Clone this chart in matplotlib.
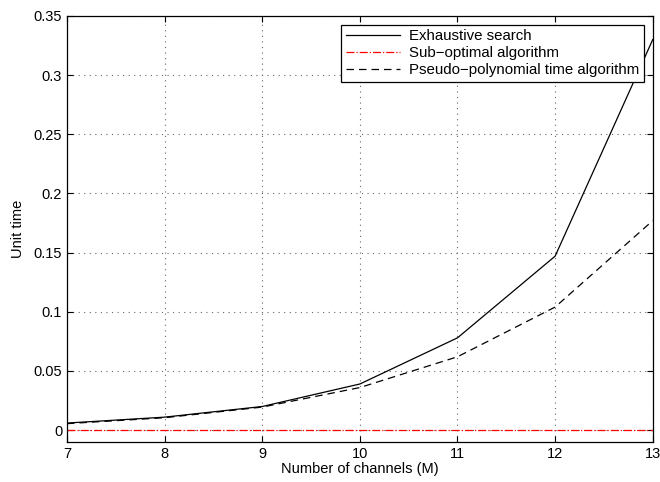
import matplotlib
matplotlib.use("Agg")
import matplotlib.pyplot as plt

plt.rcParams['font.family'] = ['Liberation Sans', 'DejaVu Sans']

# données
canaux = [7, 8, 9, 10, 11, 12, 13]
t_exhaustif = [0.006, 0.011, 0.020, 0.039, 0.078, 0.147, 0.330]
t_sous_opt = [0.0003, 0.0003, 0.0003, 0.0003, 0.0003, 0.0003, 0.0003]
t_pseudo = [0.0055, 0.0105, 0.0195, 0.036, 0.062, 0.104, 0.177]
yticks = [0, 0.05, 0.1, 0.15, 0.2, 0.25, 0.3, 0.35]
ytick_labels = ['0', '0.05', '0.1', '0.15', '0.2', '0.25', '0.3', '0.35']

fig = plt.figure(figsize=(6.6, 4.82), dpi=100)
ax = fig.add_axes([0.1015, 0.083, 0.8875, 0.884])

ax.plot(canaux, t_exhaustif, 'k-', lw=0.9, label="Exhaustive search")
ax.plot(canaux, t_sous_opt, 'r-.', lw=0.9, label="Sub\u2212optimal algorithm")
ax.plot(canaux, t_pseudo, 'k--', lw=0.9, dashes=(6, 4), label="Pseudo\u2212polynomial time algorithm")

ax.set_xlim(7, 13)
ax.set_ylim(-0.01, 0.35)
ax.set_yticks(yticks)
ax.set_yticklabels(ytick_labels)
ax.grid(True, linestyle=(0, (1, 4)), color='#666666', lw=0.8)
ax.tick_params(direction='in', top=True, right=True, labelsize=10.5, length=4)
for s in ax.spines.values():
    s.set_linewidth(0.9)

ax.set_xlabel("Number of channels (M)", fontsize=10.5, labelpad=1)
ax.set_ylabel("Unit time", fontsize=10.5, labelpad=6)

leg = ax.legend(loc='upper right', fontsize=10.8, fancybox=False, framealpha=1,
                edgecolor='black', borderpad=0.3, labelspacing=0.2,
                handlelength=3.6, handletextpad=0.6, borderaxespad=0.6)
leg.get_frame().set_linewidth(0.9)

fig.savefig("out.png", dpi=100)
